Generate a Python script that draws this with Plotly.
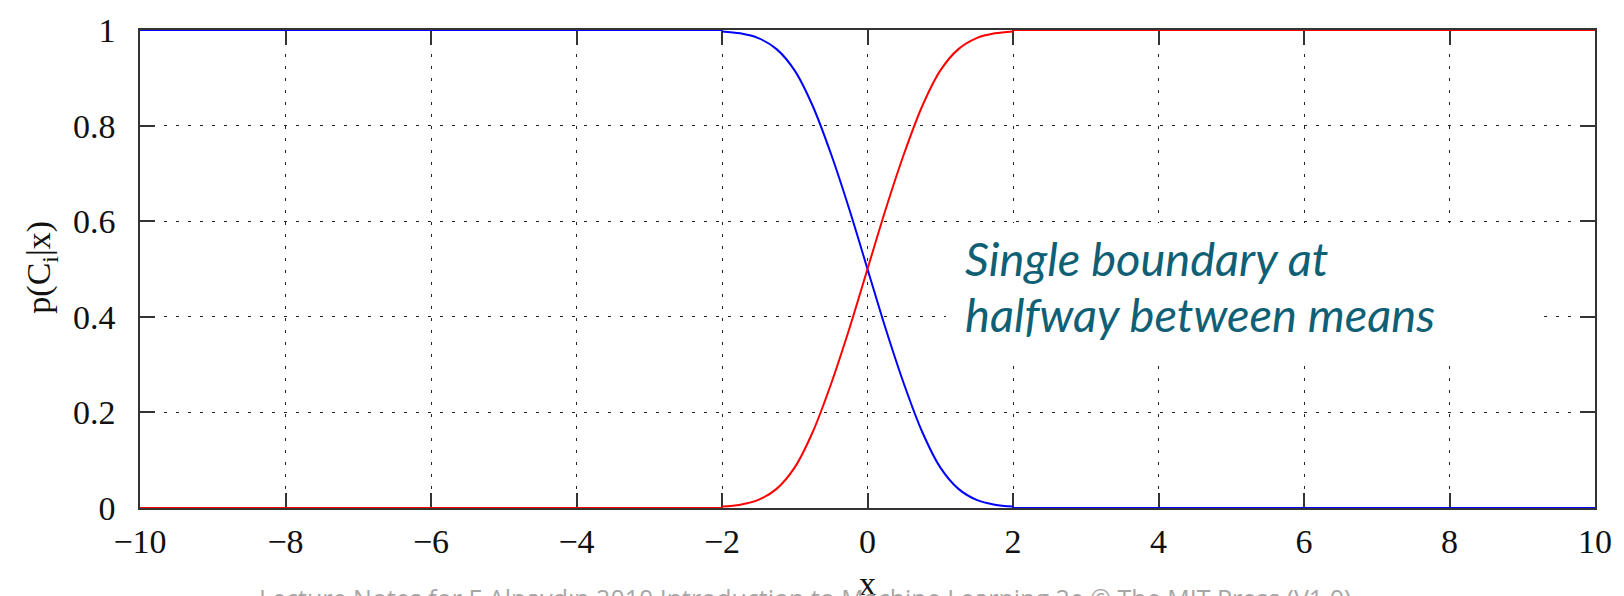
import plotly.graph_objects as go

# ---- data ----
x_tail_left = [-10, -2]
x_tail_right = [2, 10]
x_mid = [-2.0, -1.75, -1.5, -1.25, -1.0, -0.75, -0.5, -0.25, 0.0,
         0.25, 0.5, 0.75, 1.0, 1.25, 1.5, 1.75, 2.0]
blue_mid = [0.997, 0.993, 0.983, 0.96, 0.915, 0.84, 0.74, 0.625, 0.50,
            0.375, 0.26, 0.16, 0.085, 0.04, 0.017, 0.007, 0.003]
red_mid = [0.003, 0.007, 0.017, 0.04, 0.085, 0.16, 0.26, 0.375, 0.50,
           0.625, 0.74, 0.84, 0.915, 0.96, 0.983, 0.993, 0.997]
blue_left = [1, 1]
blue_right = [0, 0]
red_left = [0, 0]
red_right = [1, 1]

x_ticks = [-10, -8, -6, -4, -2, 0, 2, 4, 6, 8, 10]
x_ticktext = ["\u221210", "\u22128", "\u22126", "\u22124", "\u22122", "0", "2", "4", "6", "8", "10"]
y_ticks = [0, 0.2, 0.4, 0.6, 0.8, 1]
y_ticktext = ["0", "0.2", "0.4", "0.6", "0.8", "1"]

note_line1 = "Single boundary at"
note_line2 = "halfway between means"
footer = "Lecture Notes for E Alpayd\u0131n 2010 Introduction to Machine Learning 2e \u00a9 The MIT Press (V1.0)"

BLUE = "#0000ff"
RED = "#ff0000"
TEAL = "#0f6075"
SERIF = "Liberation Serif, Times New Roman, serif"

fig = go.Figure()

def add(xs, ys, color):
    fig.add_trace(go.Scatter(x=xs, y=ys, mode="lines", cliponaxis=False,
                             line=dict(color=color, width=2, shape="spline", smoothing=0.9),
                             showlegend=False, hoverinfo="skip"))

add(x_tail_left, blue_left, BLUE)
add(x_mid, blue_mid, BLUE)
add(x_tail_right, blue_right, BLUE)
add(x_tail_left, red_left, RED)
add(x_mid, red_mid, RED)
add(x_tail_right, red_right, RED)

axis_common = dict(
    showline=True, linecolor="#333333", linewidth=1.5, mirror="allticks",
    ticks="inside", ticklen=15, tickwidth=1.5, tickcolor="#333333",
    showgrid=True, gridcolor="#222222", gridwidth=1.3, griddash="3px,9px",
    zeroline=False, layer="below traces",
    tickfont=dict(family=SERIF, size=34, color="#111111"),
)

fig.update_xaxes(range=[-10, 10], tickmode="array", tickvals=x_ticks, ticktext=x_ticktext,
                 ticklabelstandoff=2, **axis_common)
fig.update_yaxes(range=[0, 1], tickmode="array", tickvals=y_ticks, ticktext=y_ticktext,
                 ticklabelstandoff=16, **axis_common)

# white box behind the note
fig.add_shape(type="rect", xref="x", yref="y", x0=1.08, x1=9.3, y0=0.311, y1=0.596,
              fillcolor="white", line=dict(width=0), layer="above")

note_font = dict(family="Lato, Open Sans, sans-serif", size=47, color=TEAL, style="italic")
fig.add_annotation(x=1.31, y=0.522, xref="x", yref="y", text=note_line1, showarrow=False,
                   xanchor="left", yanchor="middle", font=note_font)
fig.add_annotation(x=1.31, y=0.405, xref="x", yref="y", text=note_line2, showarrow=False,
                   xanchor="left", yanchor="middle", font=note_font)

# axis titles
fig.add_annotation(x=-0.068, y=0.503, xref="paper", yref="paper", text="p(C<sub>i</sub>|x)",
                   showarrow=False, textangle=-90, xanchor="center", yanchor="middle",
                   font=dict(family=SERIF, size=34, color="#111111"))
fig.add_annotation(x=0.5, y=-0.158, xref="paper", yref="paper", text="x",
                   showarrow=False, xanchor="center", yanchor="middle",
                   font=dict(family=SERIF, size=34, color="#111111"))

# footer (cut off by the window bottom)
fig.add_annotation(x=(807 - 140) / 1459, y=(508 - 580) / 485, xref="paper", yref="paper",
                   text=footer, showarrow=False, xanchor="center", yanchor="top",
                   font=dict(family="Open Sans, sans-serif", size=25, color="#a6a6a6"))

fig.update_layout(
    width=1624, height=596,
    margin=dict(l=140, r=25, t=23, b=88),
    paper_bgcolor="white", plot_bgcolor="white",
)

fig.write_html("out.html")
